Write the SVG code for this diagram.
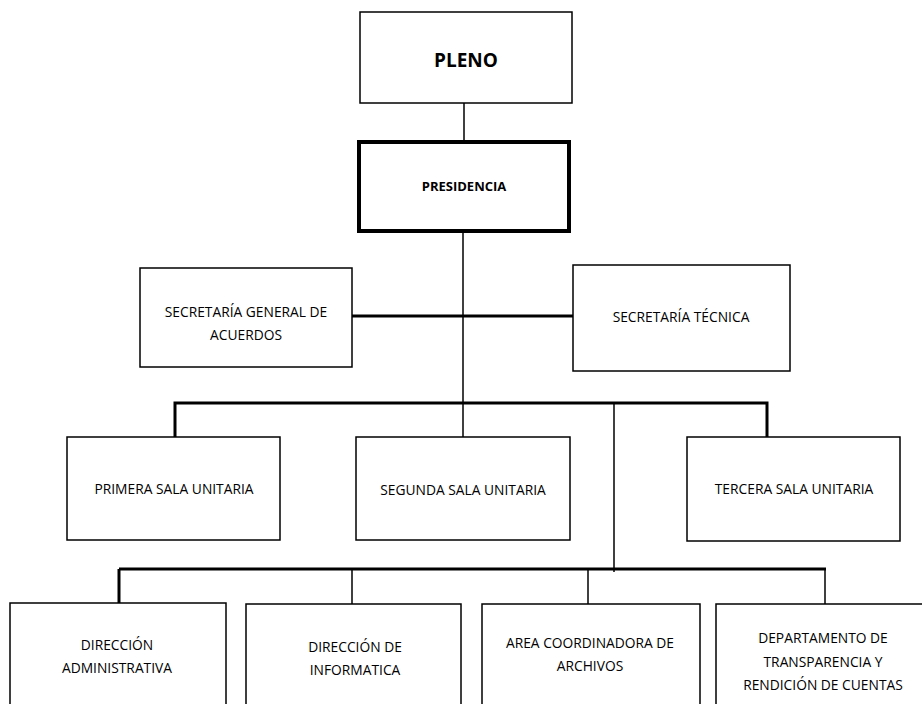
<svg xmlns="http://www.w3.org/2000/svg" width="922" height="704" viewBox="0 0 922 704">
<style>
.box{fill:#fff;stroke:#000;stroke-width:1.5}
.t{font-family:"Open Sans","Liberation Sans",sans-serif;font-size:13.8px;text-anchor:middle;fill:#000}
.thin{stroke:#000;stroke-width:1.5;fill:none}
.thick{stroke:#000;stroke-width:3;fill:none}
</style>
<rect width="922" height="704" fill="#fff"/>
<g id="connectors">
<line class="thin" x1="464" y1="103" x2="464" y2="142"/>
<line class="thin" x1="463" y1="232" x2="463" y2="437"/>
<line class="thick" x1="352" y1="316" x2="573" y2="316"/>
<polyline class="thick" points="175,437 175,403 767,403 767,437"/>
<line class="thin" x1="614" y1="403" x2="614" y2="572"/>
<line class="thick" x1="119" y1="569" x2="826" y2="569"/>
<line class="thick" x1="119" y1="569" x2="119" y2="603"/>
<line class="thin" x1="352" y1="569" x2="352" y2="604"/>
<line class="thin" x1="588" y1="569" x2="588" y2="604"/>
<line class="thin" x1="825" y1="569" x2="825" y2="604"/>
</g>
<g id="pleno">
<rect class="box" x="360" y="12" width="212" height="91"/>
<text class="t" x="466" y="67" style="font-size:19px;font-weight:bold">PLENO</text>
</g>
<g id="presidencia">
<rect x="359" y="142" width="210" height="89" fill="#fff" stroke="#000" stroke-width="4"/>
<text class="t" x="464" y="191" style="font-size:13px;font-weight:bold">PRESIDENCIA</text>
</g>
<g id="secretaria-general">
<rect class="box" x="140" y="268" width="212" height="99"/>
<text class="t" x="246" y="317">SECRETARÍA GENERAL DE</text>
<text class="t" x="246" y="340">ACUERDOS</text>
</g>
<g id="secretaria-tecnica">
<rect class="box" x="573" y="265" width="217" height="106"/>
<text class="t" x="681" y="322">SECRETARÍA TÉCNICA</text>
</g>
<g id="primera-sala">
<rect class="box" x="67" y="437" width="213" height="103"/>
<text class="t" x="174" y="494">PRIMERA SALA UNITARIA</text>
</g>
<g id="segunda-sala">
<rect class="box" x="356" y="437" width="214" height="103"/>
<text class="t" x="463" y="495">SEGUNDA SALA UNITARIA</text>
</g>
<g id="tercera-sala">
<rect class="box" x="687" y="437" width="213" height="104"/>
<text class="t" x="794" y="494">TERCERA SALA UNITARIA</text>
</g>
<g id="direccion-administrativa">
<rect class="box" x="10" y="603" width="216" height="110"/>
<text class="t" x="117" y="650">DIRECCIÓN</text>
<text class="t" x="117" y="673">ADMINISTRATIVA</text>
</g>
<g id="direccion-informatica">
<rect class="box" x="246" y="604" width="215" height="110"/>
<text class="t" x="355" y="652">DIRECCIÓN DE</text>
<text class="t" x="355" y="675">INFORMATICA</text>
</g>
<g id="area-archivos">
<rect class="box" x="482" y="604" width="218" height="110"/>
<text class="t" x="590" y="648">AREA COORDINADORA DE</text>
<text class="t" x="590" y="671">ARCHIVOS</text>
</g>
<g id="departamento-transparencia">
<rect class="box" x="716" y="604" width="215" height="110"/>
<text class="t" x="823" y="643">DEPARTAMENTO DE</text>
<text class="t" x="823" y="667">TRANSPARENCIA Y</text>
<text class="t" x="823" y="690">RENDICIÓN DE CUENTAS</text>
</g>
</svg>
